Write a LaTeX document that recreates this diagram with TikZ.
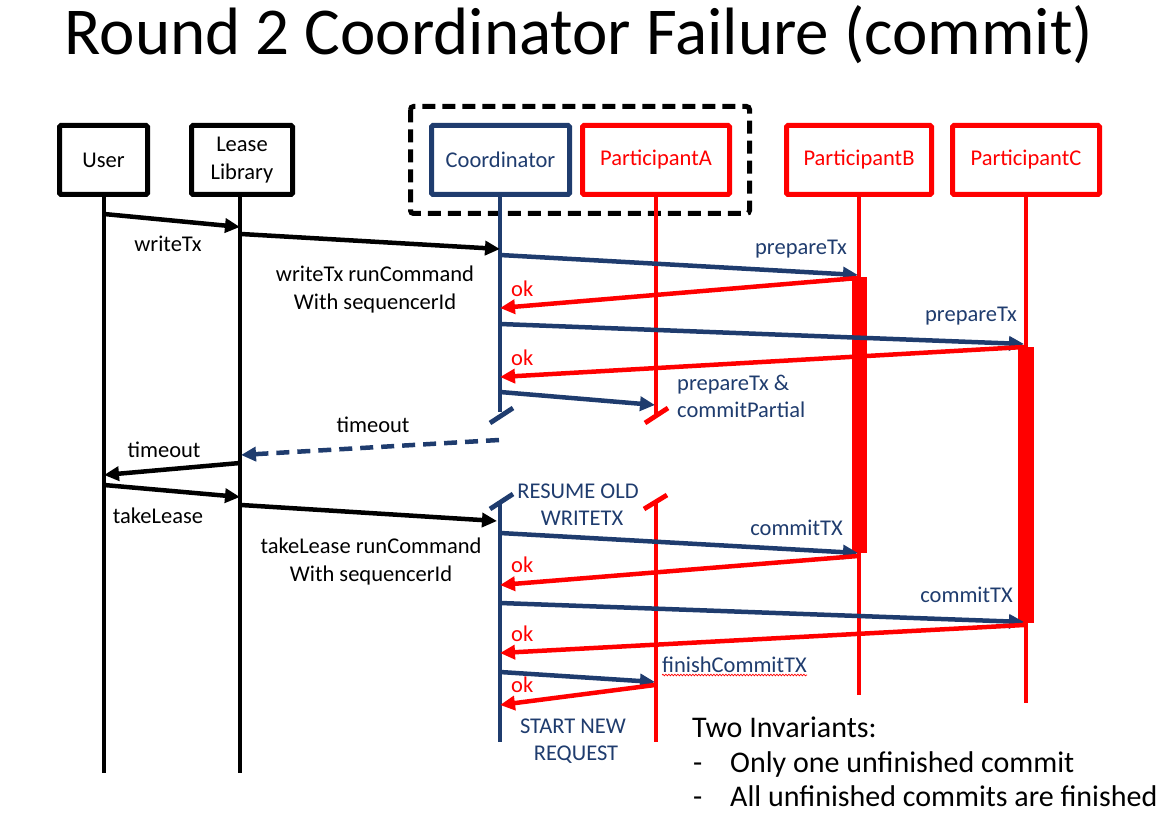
\documentclass[tikz,border=0pt]{standalone}
\usepackage{fontspec}
\setmainfont{Carlito}
\usetikzlibrary{arrows.meta,decorations.pathmorphing}
\definecolor{navy}{RGB}{31,60,110}
\definecolor{hotred}{RGB}{255,0,0}

\begin{document}
\begin{tikzpicture}[x=1pt,y=-1pt,
  actor/.style={draw=#1, line width=5pt, rounded corners=1.5pt, minimum height=69pt,
    text=#1, align=center, inner sep=0pt, font=\fontsize{22.5}{27}\selectfont},
  life/.style={draw=#1, line width=4.8pt},
  msg/.style={draw=#1, line width=4.5pt, -{Triangle[length=15pt,width=14pt]}},
  lbl/.style={text=#1, inner sep=0pt, font=\fontsize{22.5}{27}\selectfont},
  slash/.style={draw=#1, line width=4.8pt},
]
\useasboundingbox (0,0) rectangle (1162,818);

% title
\node[anchor=base, inner sep=0pt, font=\fontsize{67}{70}\selectfont] (title) at (579,55)
  {Round 2 Coordinator Failure (commit)};

% group frame around coordinator and participant A
\draw[line width=5pt, dash pattern=on 13pt off 7pt, rounded corners=3pt]
  (410.5,106.5) rectangle (749.5,213.5);

% participants
\node[actor=black, minimum width=88pt]  (user)  at (103.5,160) {User};
\node[actor=black, minimum width=101pt] (lease) at (242,160)   {Lease\\[1pt]Library};
\node[actor=navy,  minimum width=138pt] (coord) at (500.5,160) {Coordinator};
\node[actor=hotred, minimum width=147pt] (pa)   at (656,160)   {ParticipantA};
\node[actor=hotred, minimum width=145pt] (pb)   at (859,160)   {ParticipantB};
\node[actor=hotred, minimum width=147pt] (pc)   at (1026,160)  {ParticipantC};

% lifelines
\draw[life=black] (user.south -| 104,0) -- (104,773);
\draw[life=black] (lease.south -| 240,0) -- (240,773);
\draw[life=navy]  (coord.south -| 500,0) -- (500,412);
\draw[life=navy]  (500,502) -- (500,742);
\draw[life=hotred] (pa.south) -- (pa.south |- 0,414);
\draw[life=hotred] (pa.south |- 0,502) -- (pa.south |- 0,742);
\draw[life=hotred] (pb.south) -- (pb.south |- 0,695);
\draw[life=hotred] (pc.south) -- (pc.south |- 0,703);

% lifeline breaks
\draw[slash=navy]   (490,423) -- (513,408);
\draw[slash=hotred] (645,423) -- (668,408);
\draw[slash=navy]   (490,509) -- (513,494);
\draw[slash=hotred] (644,509) -- (667,495);

% activation bars
\fill[hotred] (852,277) rectangle (867,553);
\fill[hotred] (1018,347) rectangle (1034,623);

% coordinates on lifelines
\coordinate (u1) at (104,214);  \coordinate (l1) at (240,227);
\coordinate (l2) at (241,234);  \coordinate (c2) at (500,249);
\coordinate (c3) at (500,255);  \coordinate (b3) at (858,275);
\coordinate (b4) at (858,278);  \coordinate (c4) at (500,308);
\coordinate (c5) at (500,324);  \coordinate (k5) at (1024,344);
\coordinate (k6) at (1024,347); \coordinate (c6) at (500,377);
\coordinate (c7) at (500,392);  \coordinate (a7) at (655,405);
\coordinate (c8) at (499,440);  \coordinate (l8) at (241,455);
\coordinate (l9) at (240,463);  \coordinate (u9) at (104,475);
\coordinate (u10) at (104,485); \coordinate (l10) at (240,497);
\coordinate (l11) at (241,505); \coordinate (c11) at (497,521);
\coordinate (c12) at (500,533); \coordinate (b12) at (858,553);
\coordinate (b13) at (858,556); \coordinate (c13) at (500,585);
\coordinate (c14) at (500,603); \coordinate (k14) at (1024,622);
\coordinate (k15) at (1024,625); \coordinate (c15) at (500,653);
\coordinate (c16) at (500,672); \coordinate (a16) at (655,682);
\coordinate (a17) at (655,685); \coordinate (c17) at (500,705);

% messages
\draw[msg=black] (u1) -- (l1);
\draw[msg=black] (l2) -- (c2);
\draw[msg=navy] (c3) -- (b3);
\draw[msg=hotred] (b4) -- (c4);
\draw[msg=navy] (c5) -- (k5);
\draw[msg=hotred] (k6) -- (c6);
\draw[msg=navy] (c7) -- (a7);
\draw[msg=navy, dash pattern=on 13pt off 8pt] (c8) -- (l8);
\draw[msg=black] (l9) -- (u9);
\draw[msg=black] (u10) -- (l10);
\draw[msg=black] (l11) -- (c11);
\draw[msg=navy] (c12) -- (b12);
\draw[msg=hotred] (b13) -- (c13);
\draw[msg=navy] (c14) -- (k14);
\draw[msg=hotred] (k15) -- (c15);
\draw[msg=navy] (c16) -- (a16);
\draw[msg=hotred] (a17) -- (c17);

% message labels
\node[lbl=black, anchor=base] (t1) at (168,252) {writeTx};
\node[lbl=black, anchor=base] (t2a) at (375,282) {writeTx runCommand};
\node[lbl=black, anchor=base] (t2b) at (375,309) {With sequencerId};
\node[lbl=navy, anchor=base east] (t3) at (847,255) {prepareTx};
\node[lbl=hotred, anchor=base west] (t4) at (511,297) {ok};
\node[lbl=navy, anchor=base east] (t5) at (1017,322) {prepareTx};
\node[lbl=hotred, anchor=base west] (t6) at (511,365) {ok};
\node[lbl=navy, anchor=base west] (t7a) at (677,390) {prepareTx \&};
\node[lbl=navy, anchor=base west] (t7b) at (677,417) {commitPartial};
\node[lbl=black, anchor=base] (t8) at (373,432) {timeout};
\node[lbl=black, anchor=base] (t9) at (164,457) {timeout};
\node[lbl=black, anchor=base] (t10) at (158,523) {takeLease};
\node[lbl=black, anchor=base] (t11a) at (371,553) {takeLease runCommand};
\node[lbl=black, anchor=base] (t11b) at (371,581) {With sequencerId};
\node[lbl=navy, anchor=base] (r1) at (578,498) {RESUME OLD};
\node[lbl=navy, anchor=base] (r2) at (582,525) {WRITETX};
\node[lbl=navy, anchor=base east] (t12) at (843,535) {commitTX};
\node[lbl=hotred, anchor=base west] (t13) at (511,572) {ok};
\node[lbl=navy, anchor=base east] (t14) at (1013,602) {commitTX};
\node[lbl=hotred, anchor=base west] (t15) at (511,641) {ok};
\node[lbl=navy, anchor=base west] (t16) at (662,672) {finishCommitTX};
\node[lbl=hotred, anchor=base west] (t17) at (511,692) {ok};
\node[lbl=navy, anchor=base] (s1) at (573,733) {START NEW};
\node[lbl=navy, anchor=base] (s2) at (576,760) {REQUEST};

% spelling squiggle under the finish label
\draw[hotred, line width=0.7pt, decorate,
  decoration={snake, amplitude=0.8pt, segment length=3pt}]
  ([yshift=-3pt]t16.base west) -- ([yshift=-3pt]t16.base east);

% invariants note
\node[anchor=base west, inner sep=0pt, font=\fontsize{30}{36}\selectfont] (inv) at (692,737) {Two Invariants:};
\node[anchor=base west, inner sep=0pt, font=\fontsize{30}{36}\selectfont] (d1) at (693,772) {-};
\node[anchor=base west, inner sep=0pt, font=\fontsize{30}{36}\selectfont] (i1) at (730,772) {Only one unfinished commit};
\node[anchor=base west, inner sep=0pt, font=\fontsize{30}{36}\selectfont] (d2) at (693,806) {-};
\node[anchor=base west, inner sep=0pt, font=\fontsize{30}{36}\selectfont] (i2) at (730,806) {All unfinished commits are finished};
\end{tikzpicture}
\end{document}
